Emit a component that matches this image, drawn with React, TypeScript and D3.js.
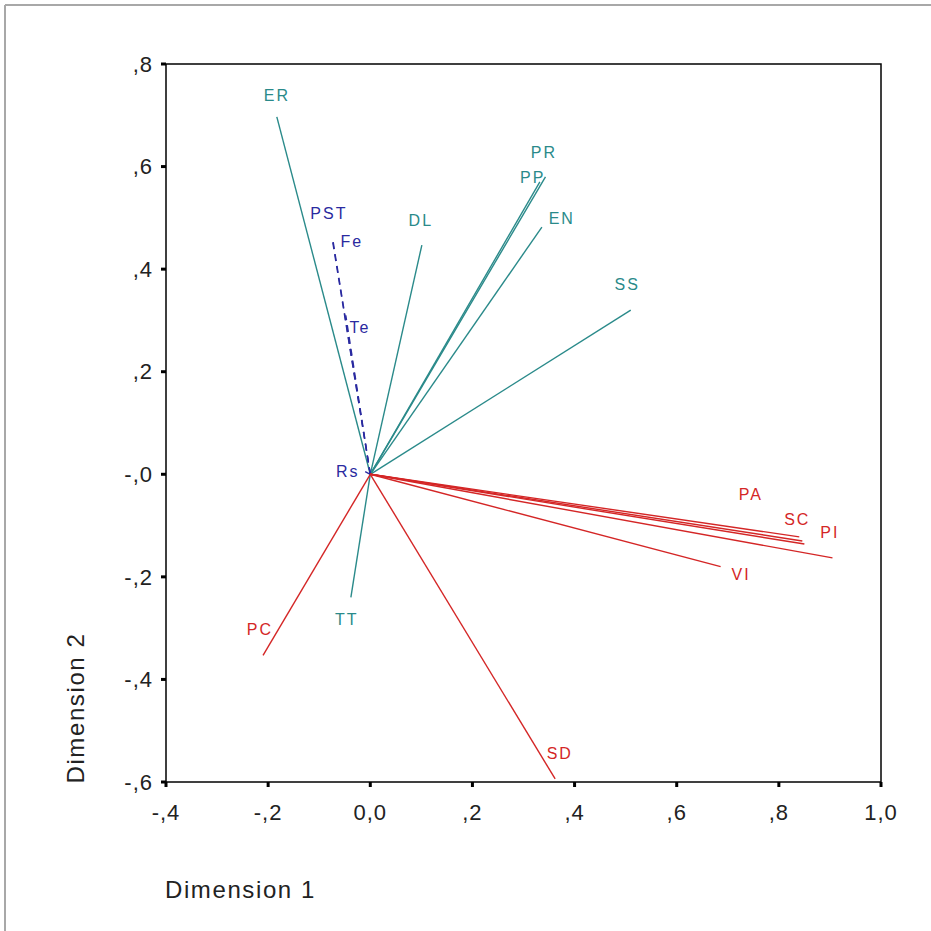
import React, { useEffect } from "react";
import * as d3 from "d3";

// vector end points (Dimension 1, Dimension 2) and where SPSS put the label
const names = ["ER", "DL", "PR", "PP", "EN", "SS", "TT", "PST", "Fe", "Te", "Rs", "PA", "SC", "", "PI", "VI", "PC", "SD"];
const dim1 = [-0.183, 0.101, 0.343, 0.332, 0.336, 0.51, -0.038, -0.075, -0.073, -0.048, -0.01, 0.84, 0.846, 0.85, 0.905, 0.686, -0.21, 0.362];
const dim2 = [0.697, 0.447, 0.58, 0.57, 0.482, 0.32, -0.24, 0.462, 0.455, 0.31, 0.005, -0.122, -0.13, -0.136, -0.163, -0.18, -0.353, -0.594];
const labelX = [-0.183, 0.099, 0.34, 0.318, 0.375, 0.503, -0.046, -0.081, -0.036, -0.02, -0.044, 0.745, 0.836, 0, 0.9, 0.726, -0.216, 0.371];
const labelY = [0.739, 0.495, 0.628, 0.579, 0.499, 0.37, -0.282, 0.509, 0.454, 0.286, 0.005, -0.04, -0.087, 0, -0.114, -0.196, -0.302, -0.544];
const group = ["a", "a", "a", "a", "a", "a", "a", "b", "b", "b", "b", "c", "c", "c", "c", "c", "c", "c"];

const xTicks = [-0.4, -0.2, 0, 0.2, 0.4, 0.6, 0.8, 1.0];
const xTickLabels = ["-,4", "-,2", "0,0", ",2", ",4", ",6", ",8", "1,0"];
const yTicks = [0.8, 0.6, 0.4, 0.2, 0, -0.2, -0.4, -0.6];
const yTickLabels = [",8", ",6", ",4", ",2", "-,0", "-,2", "-,4", "-,6"];

const colors: Record<string, string> = { a: "#2a8a8a", b: "#2a2aa0", c: "#d42626" };

export default function App() {
  useEffect(() => {
    document.body.style.margin = "0";
  }, []);

  const W = 931, H = 931;
  const x = d3.scaleLinear().domain([-0.4, 1.0]).range([166, 881]);
  const y = d3.scaleLinear().domain([-0.6, 0.8]).range([782, 64]);
  const font = "'Liberation Sans', Arial, sans-serif";

  return (
    <svg width={W} height={H} style={{ display: "block", background: "#fff" }}>
      {/* window frame */}
      <line x1={5} y1={5} x2={W} y2={5} stroke="#a8a8a8" strokeWidth={2} />
      <line x1={5} y1={5} x2={5} y2={H} stroke="#a8a8a8" strokeWidth={2} />

      <rect x={x(-0.4)} y={y(0.8)} width={x(1.0) - x(-0.4)} height={y(-0.6) - y(0.8)}
        fill="none" stroke="#000" strokeWidth={1.5} />

      {/* vectors */}
      {names.map((n, i) => (
        <line key={"l" + i} x1={x(0)} y1={y(0)} x2={x(dim1[i])} y2={y(dim2[i])}
          stroke={colors[group[i]]} strokeWidth={1.4}
          strokeDasharray={group[i] === "b" ? "7,5" : undefined} />
      ))}
      {names.map((n, i) => (
        <text key={"t" + i} x={x(labelX[i])} y={y(labelY[i])} dy="0.35em" textAnchor="middle"
          fontFamily={font} fontSize={16} letterSpacing={2} fill={colors[group[i]]}>{n}</text>
      ))}

      {/* y axis */}
      {yTicks.map((t, i) => (
        <g key={"y" + i}>
          <line x1={x(-0.4) - 5} x2={x(-0.4)} y1={y(t)} y2={y(t)} stroke="#000" strokeWidth={3} />
          <text x={x(-0.4) - 13} y={y(t)} dy="0.35em" textAnchor="end" fontFamily={font} fontSize={22}
            letterSpacing={1} fill="#222">{yTickLabels[i]}</text>
        </g>
      ))}
      {/* x axis */}
      {xTicks.map((t, i) => (
        <g key={"x" + i}>
          <line x1={x(t)} x2={x(t)} y1={y(-0.6)} y2={y(-0.6) + 5} stroke="#000" strokeWidth={3} />
          <text x={x(t)} y={y(-0.6) + 30} dy="0.35em" textAnchor="middle" fontFamily={font} fontSize={22}
            letterSpacing={1} fill="#222">{xTickLabels[i]}</text>
        </g>
      ))}

      <text x={165} y={890} dy="0.35em" fontFamily={font} fontSize={24} letterSpacing={1.6} fill="#222">Dimension 1</text>
      <text transform="translate(76,708) rotate(-90)" dy="0.35em" textAnchor="middle" fontFamily={font}
        fontSize={24} letterSpacing={1.6} fill="#222">Dimension 2</text>
    </svg>
  );
}
